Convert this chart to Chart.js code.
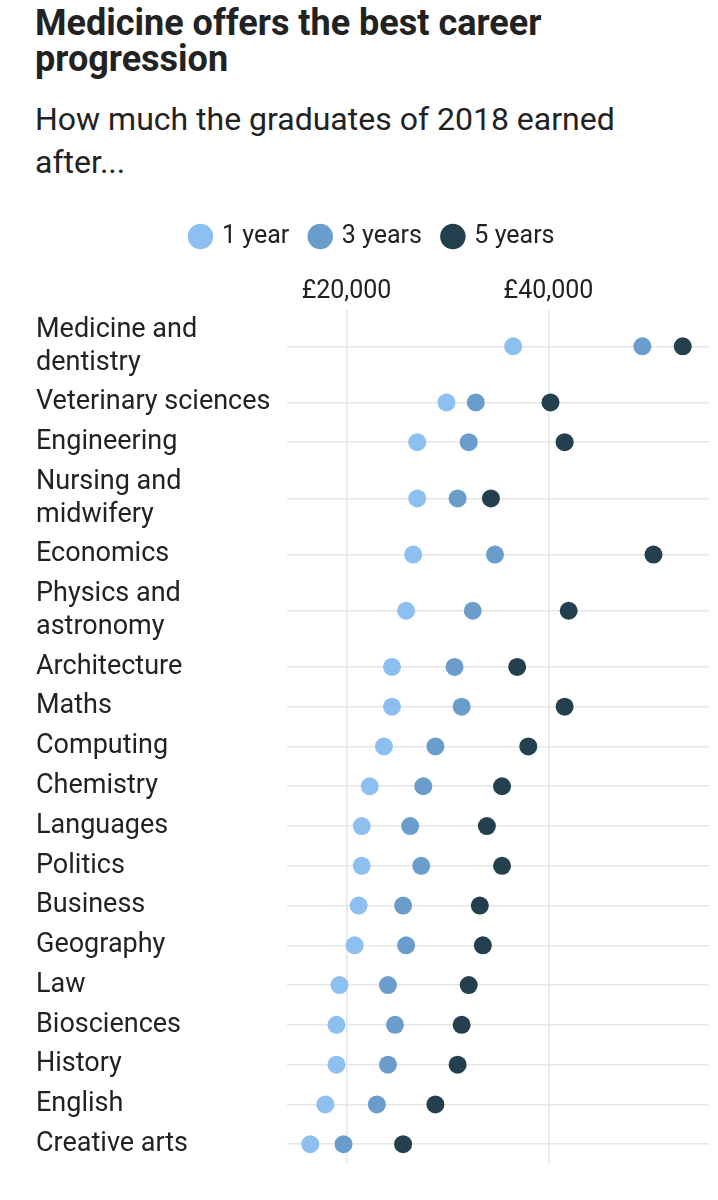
<!DOCTYPE html>
<html>
<head>
<meta charset="utf-8">
<script src="https://cdn.jsdelivr.net/npm/chart.js@4.4.1/dist/chart.umd.min.js"></script>
<style>
  body { margin: 0; background: #fff; font-family: Roboto, sans-serif; color: #222; }
  #title { position: absolute; left: 35px; top: 5px; width: 620px; font-size: 36px; font-weight: 700; line-height: 36px; }
  #subtitle { position: absolute; left: 35px; top: 98px; width: 640px; font-size: 32px; line-height: 43px; }
  #chart-box { position: absolute; left: 0; top: 200px; width: 718px; height: 1000px; }
</style>
</head>
<body>
<div id="title">Medicine offers the best career progression</div>
<div id="subtitle">How much the graduates of 2018 earned after...</div>
<div id="chart-box"><canvas id="chart-canvas"></canvas></div>
<script>
// subjects, top to bottom (arrays = label wraps onto two lines)
const subjects = [
  ["Medicine and", "dentistry"], "Veterinary sciences", "Engineering",
  ["Nursing and", "midwifery"], "Economics", ["Physics and", "astronomy"],
  "Architecture", "Maths", "Computing", "Chemistry", "Languages", "Politics",
  "Business", "Geography", "Law", "Biosciences", "History", "English", "Creative arts"
];

// earnings in £
const oneYear   = [36500, 29900, 27000, 27000, 26600, 25900, 24500, 24500, 23700, 22300,
                   21500, 21500, 21200, 20800, 19300, 19000, 19000, 17900, 16400];
const threeYears = [49300, 32800, 32100, 31000, 34700, 32500, 30700, 31400, 28800, 27600,
                   26300, 27400, 25600, 25900, 24100, 24800, 24100, 23000, 19700];
const fiveYears  = [53300, 40200, 41600, 34300, 50400, 42000, 36900, 41600, 38000, 35400,
                   33900, 35400, 33200, 33500, 32100, 31400, 31000, 28800, 25600];

const seriesNames = ["1 year", "3 years", "5 years"];
const xTicks = [20000, 40000];

// each row is as tall as its label: 40px plus 33px per extra line
const rowHeights = subjects.map(s => 40 + 33 * ((Array.isArray(s) ? s.length : 1) - 1));
const rowCentres = [];
let acc = 0;
rowHeights.forEach(h => { rowCentres.push(acc + h / 2); acc += h; });
const totalHeight = acc;

const colors = ["#8dbff0", "#6a9dcc", "#24404f"];

Chart.defaults.font.family = "Roboto";
Chart.defaults.font.size = 25;
Chart.defaults.color = "#222";

const datasets = [oneYear, threeYears, fiveYears].map(function(vals, k){
  return {
    label: seriesNames[k],
    data: vals.map((v, i) => ({x: v, y: rowCentres[i]})),
    backgroundColor: colors[k],
    borderColor: colors[k],
    borderWidth: 0,
    pointRadius: 9,
    pointHoverRadius: 9,
    showLine: false
  };
});

new Chart("chart-canvas", {
  type: "scatter",
  data: {datasets: datasets},
  options: {
    responsive: true,
    maintainAspectRatio: false,
    animation: false,
    events: [],
    layout: {padding: {left: 36, right: 8, top: 2, bottom: 31}},
    plugins: {
      tooltip: {enabled: false},
      legend: {
        display: true,
        position: "top",
        align: "center",
        labels: {
          usePointStyle: true,
          pointStyle: "circle",
          boxWidth: 18,
          boxHeight: 18,
          padding: 22,
          color: "#222",
          font: {size: 25}
        }
      }
    },
    scales: {
      x: {
        type: "linear",
        position: "top",
        min: 14100,
        max: 55900,
        afterBuildTicks: function(scale){ scale.ticks = xTicks.map(v => ({value: v})); },
        afterFit: function(scale){ scale.height = 51; },
        ticks: {
          padding: 3,
          color: "#222",
          font: {size: 25},
          callback: v => "£" + v.toLocaleString("en-GB")
        },
        grid: {color: "#e6e6e6", lineWidth: 1.5, drawTicks: false},
        border: {display: false}
      },
      y: {
        type: "linear",
        position: "left",
        reverse: true,
        min: 0,
        max: totalHeight,
        afterBuildTicks: function(scale){ scale.ticks = rowCentres.map(v => ({value: v})); },
        afterFit: function(scale){ scale.width = 251; },
        ticks: {
          autoSkip: false,
          crossAlign: "far",
          color: "#222",
          font: {size: 27, lineHeight: 1.22},
          callback: (v, i) => subjects[i]
        },
        grid: {color: "#e6e6e6", lineWidth: 1.5, drawTicks: false},
        border: {display: false}
      }
    }
  }
});
</script>
</body>
</html>
